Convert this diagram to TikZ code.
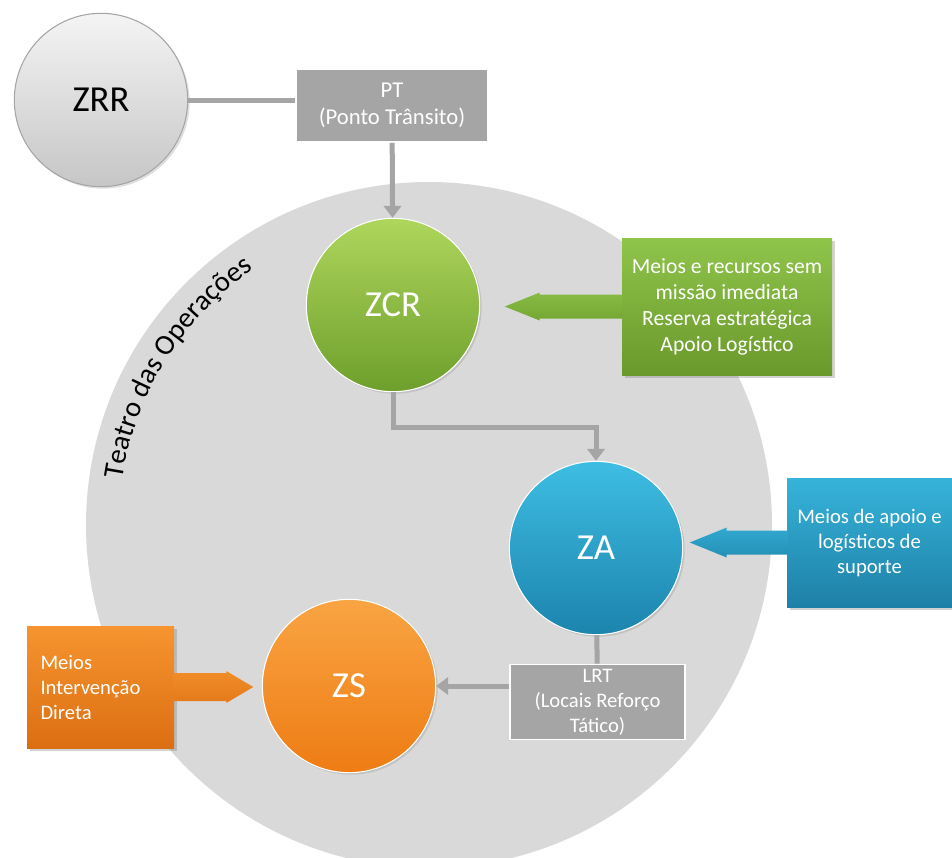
\documentclass[tikz,border=0pt]{standalone}
\usepackage{fontspec}
\setmainfont{Carlito}
\usetikzlibrary{arrows.meta, positioning, shadows, decorations.text}

\definecolor{linkgrey}{HTML}{A5A5A5}
\definecolor{theatre}{HTML}{D9D9D9}
\definecolor{zrrtop}{HTML}{F4F4F4}
\definecolor{zrrbottom}{HTML}{C6C6C6}
\definecolor{greentop}{HTML}{AED65C}
\definecolor{greenbottom}{HTML}{6E9F2C}
\definecolor{bluetop}{HTML}{3EBDE3}
\definecolor{bluebottom}{HTML}{1C84AD}
\definecolor{orangetop}{HTML}{F9A443}
\definecolor{orangebottom}{HTML}{EE7C14}
\definecolor{notegreentop}{HTML}{8FC44B}
\definecolor{notegreenbottom}{HTML}{6A992B}
\definecolor{notebluetop}{HTML}{36B3DA}
\definecolor{notebluebottom}{HTML}{1F80A6}
\definecolor{noteorangetop}{HTML}{F6952F}
\definecolor{noteorangebottom}{HTML}{DC6E12}

\tikzset{
    zone/.style={
        circle,
        inner sep=0pt,
        minimum size=130pt,
        draw=white,
        line width=0.8pt,
        text=white,
        font=\fontsize{27.5}{32}\selectfont,
        drop shadow={opacity=0.25, shadow xshift=1.5pt, shadow yshift=-1.5pt}
    },
    point/.style={
        rectangle,
        fill=linkgrey,
        draw=white,
        line width=1.2pt,
        inner ysep=1pt,
        text=white,
        align=center,
        font=\fontsize{15.5}{18.75}\selectfont
    },
    note/.style={
        rectangle,
        text=white,
        align=center,
        font=\fontsize{15.5}{18.75}\selectfont,
        drop shadow={opacity=0.35, shadow xshift=2pt, shadow yshift=-2pt}
    },
    link/.style={
        draw=linkgrey,
        line width=3.75pt
    },
    arrow/.style={
        link,
        -{Triangle[length=9pt,width=13pt]}
    }
}

\begin{document}
\begin{tikzpicture}[x=0.75pt, y=-0.75pt]
\useasboundingbox (0,0) rectangle (952,857);

\begin{scope}
\clip (0,0) rectangle (952,857);
\node (teatro) [circle, fill=theatre, inner sep=0pt, minimum size=514.5pt] at (429,525) {};
\end{scope}

\path [decorate, decoration={text along path, text align=center,
    text={|\fontsize{21.5}{25}\selectfont|Teatro das Operações}}]
    (429,525) ++(-174:310) arc[start angle=-174, end angle=-122, radius=310];

\node (zrr) [zone, draw=linkgrey, text=black, top color=zrrtop, bottom color=zrrbottom] at (101,100) {ZRR};
\node (pt) [point, minimum width=144pt, minimum height=54.75pt, font=\fontsize{17}{20}\selectfont] at (392,105.5) {PT\\(Ponto Trânsito)};
\node (zcr) [zone, top color=greentop, bottom color=greenbottom] at (393,305) {ZCR};
\node (za) [zone, top color=bluetop, bottom color=bluebottom] at (596,548) {ZA};
\node (zs) [zone, top color=orangetop, bottom color=orangebottom] at (349,686) {ZS};
\node (lrt) [point, minimum width=131.25pt, minimum height=56.25pt] at (597.5,702) {LRT\\(Locais Reforço\\Tático)};

\begin{scope}
\clip (0,0) rectangle (952,857);
\node (zcrnote) [note, top color=notegreentop, bottom color=notegreenbottom, minimum width=157.5pt, minimum height=102.75pt, font=\fontsize{16.25}{19.5}\selectfont] at (727,306.5) {Meios e recursos sem\\missão imediata\\Reserva estratégica\\Apoio Logístico};
\node (zanote) [note, top color=notebluetop, bottom color=notebluebottom, minimum width=123.75pt, minimum height=96.75pt] at (869.5,542.5) {Meios de apoio e\\logísticos de\\suporte};
\node (zsnote) [note, top color=noteorangetop, bottom color=noteorangebottom, minimum width=110.25pt, minimum height=91.5pt, text width=90pt, align=left] at (100.5,687) {Meios\\Intervenção\\Direta};
\end{scope}

\path [top color=notegreentop!80!notegreenbottom, bottom color=notegreenbottom!70!notegreentop]
    (zcrnote.west) ++(1,-12) -- ++(-83,0) -- ++(0,-2) -- ++(-35,14) -- ++(35,14) -- ++(0,-2) -- ++(83,0) -- cycle;
\path [top color=notebluetop!80!notebluebottom, bottom color=notebluebottom!70!notebluetop]
    (zanote.west) ++(1,-12) -- ++(-61,0) -- ++(0,-3) -- ++(-37,15) -- ++(37,15) -- ++(0,-3) -- ++(61,0) -- cycle;
\path [top color=noteorangetop!80!noteorangebottom, bottom color=noteorangebottom!70!noteorangetop]
    (zsnote.east) ++(-1,-14) -- ++(53,0) -- ++(0,-2) -- ++(27,16) -- ++(-27,16) -- ++(0,-2) -- ++(-53,0) -- cycle;

\draw [link] (zrr) -- (zrr -| pt.west);
\draw [arrow] (pt) -- (zcr);
\draw [arrow] (zcr.south) -- ++(0,35) -| (za.north);
\draw [link] (za) -- (lrt);
\draw [arrow] (lrt.west |- zs) -- (zs);

\end{tikzpicture}
\end{document}
